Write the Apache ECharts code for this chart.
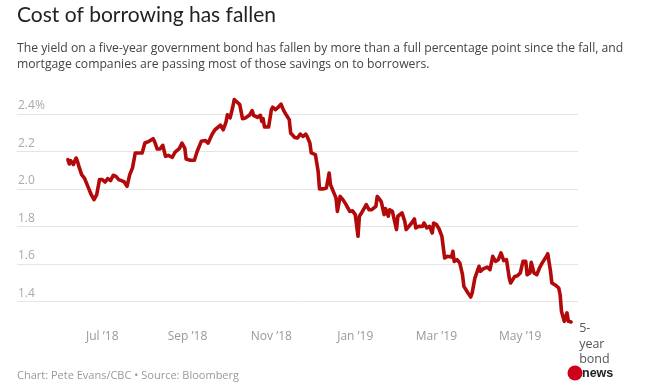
<!DOCTYPE html>
<html>
<head>
<meta charset="utf-8">
<script src="https://cdn.jsdelivr.net/npm/echarts@6/dist/echarts.min.js"></script>
<style>
html,body{margin:0;padding:0;background:#fff;}
#chart{width:645px;height:388px;}
</style>
</head>
<body>
<div id="chart"></div>
<script>
// ---- data ----
const dates = [
"2018-06-06","2018-06-07","2018-06-08","2018-06-10","2018-06-12","2018-06-13","2018-06-14","2018-06-16","2018-06-18","2018-06-20",
"2018-06-23","2018-06-25","2018-06-27","2018-06-29","2018-07-01","2018-07-03","2018-07-05","2018-07-07","2018-07-09","2018-07-11",
"2018-07-13","2018-07-15","2018-07-17","2018-07-19","2018-07-21","2018-07-23","2018-07-25","2018-07-27","2018-07-30","2018-08-01",
"2018-08-04","2018-08-07","2018-08-08","2018-08-10","2018-08-12","2018-08-14","2018-08-16","2018-08-18","2018-08-21","2018-08-23",
"2018-08-26","2018-08-28","2018-08-30","2018-08-31","2018-09-03","2018-09-06","2018-09-08","2018-09-09","2018-09-11","2018-09-14",
"2018-09-16","2018-09-19","2018-09-21","2018-09-25","2018-09-27","2018-09-29","2018-09-30","2018-10-02","2018-10-04","2018-10-05",
"2018-10-07","2018-10-09","2018-10-11","2018-10-13","2018-10-16","2018-10-18","2018-10-19","2018-10-22","2018-10-24","2018-10-25",
"2018-10-26","2018-10-27","2018-10-30","2018-11-01","2018-11-02","2018-11-04","2018-11-06","2018-11-08","2018-11-10","2018-11-12",
"2018-11-14","2018-11-15","2018-11-18","2018-11-20","2018-11-22","2018-11-24","2018-11-26","2018-11-27","2018-11-29","2018-11-30",
"2018-12-03","2018-12-05","2018-12-06","2018-12-09","2018-12-11","2018-12-13","2018-12-14","2018-12-16","2018-12-18","2018-12-19",
"2018-12-21","2018-12-23","2018-12-25","2018-12-26","2018-12-28","2018-12-30","2019-01-01","2019-01-03","2019-01-04","2019-01-06",
"2019-01-09","2019-01-11","2019-01-13","2019-01-16","2019-01-17","2019-01-19","2019-01-20","2019-01-22","2019-01-23","2019-01-25",
"2019-01-26","2019-01-28","2019-01-31","2019-02-01","2019-02-04","2019-02-06","2019-02-07","2019-02-09","2019-02-11","2019-02-13",
"2019-02-14","2019-02-16","2019-02-19","2019-02-20","2019-02-22","2019-02-24","2019-02-26","2019-02-27","2019-03-01","2019-03-03",
"2019-03-05","2019-03-07","2019-03-09","2019-03-12","2019-03-13","2019-03-14","2019-03-16","2019-03-18","2019-03-20","2019-03-21",
"2019-03-24","2019-03-26","2019-03-27","2019-03-29","2019-04-01","2019-04-02","2019-04-04","2019-04-07","2019-04-08","2019-04-09",
"2019-04-11","2019-04-13","2019-04-15","2019-04-17","2019-04-19","2019-04-21","2019-04-23","2019-04-24","2019-04-27","2019-04-29",
"2019-05-01","2019-05-03","2019-05-05","2019-05-06","2019-05-08","2019-05-09","2019-05-11","2019-05-13","2019-05-15","2019-05-17",
"2019-05-20","2019-05-21","2019-05-23","2019-05-24","2019-05-27","2019-05-29","2019-05-30","2019-05-31","2019-06-02","2019-06-04",
"2019-06-05","2019-06-07"
];
const yields = [
2.156,2.133,2.151,2.130,2.165,2.147,2.120,2.076,2.058,2.023,
1.969,1.943,1.970,2.050,2.050,2.037,2.055,2.044,2.073,2.067,
2.050,2.044,2.037,2.014,2.076,2.112,2.192,2.192,2.192,2.245,
2.254,2.268,2.254,2.213,2.213,2.233,2.174,2.179,2.169,2.197,
2.215,2.245,2.218,2.160,2.153,2.153,2.200,2.204,2.254,2.258,
2.245,2.293,2.316,2.340,2.316,2.357,2.396,2.379,2.440,2.477,
2.464,2.450,2.375,2.379,2.393,2.418,2.393,2.382,2.393,2.361,
2.375,2.331,2.331,2.423,2.436,2.423,2.436,2.453,2.418,2.393,
2.370,2.299,2.275,2.272,2.293,2.280,2.293,2.280,2.245,2.192,
2.183,2.094,2.000,2.000,2.005,2.085,2.023,1.987,1.952,1.880,
1.960,1.943,1.920,1.930,1.880,1.883,1.863,1.747,1.854,1.877,
1.916,1.889,1.889,1.907,1.960,1.943,1.930,1.863,1.895,1.854,
1.889,1.880,1.783,1.854,1.872,1.827,1.783,1.800,1.818,1.840,
1.792,1.800,1.800,1.818,1.792,1.800,1.765,1.818,1.810,1.786,
1.747,1.631,1.640,1.636,1.667,1.613,1.622,1.605,1.542,1.480,
1.444,1.423,1.444,1.524,1.587,1.560,1.573,1.583,1.587,1.569,
1.640,1.613,1.622,1.658,1.617,1.622,1.524,1.498,1.533,1.537,
1.551,1.613,1.613,1.542,1.551,1.608,1.551,1.542,1.578,1.605,
1.640,1.654,1.560,1.498,1.484,1.471,1.435,1.346,1.293,1.338,
1.293,1.290
];
const xTickDates = ["2018-07-01","2018-09-01","2018-11-01","2019-01-01","2019-03-01","2019-05-01"];
const xTickLabels = ["Jul \u201918","Sep \u201918","Nov \u201918","Jan \u201919","Mar \u201919","May \u201919"];
const xRange = ["2018-04-30","2019-06-12"];
const yMin = 1.4, yMax = 2.4, yStep = 0.2;
const seriesName = "5-\nyear\nbond";

function ts(s){ const p = s.split('-').map(Number); return Date.UTC(p[0], p[1]-1, p[2]); }

const labelMap = {};
xTickDates.forEach((d,i)=>{ labelMap[ts(d)] = xTickLabels[i]; });

const chart = echarts.init(document.getElementById('chart'), null, {renderer:'canvas'});
const FONT = 'Open Sans';
chart.setOption({
  animation:false,
  backgroundColor:'#fff',
  grid:{left:17, right:67, top:114, bottom:86.7, containLabel:false},
  xAxis:{
    type:'value',
    min:ts(xRange[0]), max:ts(xRange[1]),
    axisLine:{show:false}, axisTick:{show:false}, splitLine:{show:false},
    axisLabel:{
      customValues: xTickDates.map(ts),
      formatter:(v)=>labelMap[v] || '',
      color:'#999', fontFamily:FONT, fontSize:12, margin:29,
      hideOverlap:false, showMinLabel:true, showMaxLabel:true
    }
  },
  yAxis:{
    type:'value', min:yMin, max:yMax, interval:yStep,
    axisLine:{show:false}, axisTick:{show:false},
    splitLine:{lineStyle:{color:'#e5e5e5', width:1}},
    axisLabel:{
      inside:true, align:'left', verticalAlign:'bottom', margin:1,
      padding:[0,0,2,0],
      color:'#aaa', fontFamily:FONT, fontSize:12,
      formatter:(v)=> Math.abs(v-yMax)<1e-6 ? v.toFixed(1)+'%' : v.toFixed(1)
    }
  },
  series:[{
    type:'line',
    name:seriesName,
    data: dates.map((d,i)=>[ts(d), yields[i]]),
    showSymbol:false, clip:false,
    lineStyle:{color:'#b20a0a', width:3.6, join:'round', cap:'round'},
    endLabel:{
      show:true, formatter:seriesName, color:'#555', fontFamily:FONT, fontSize:12.5,
      lineHeight:15.5, align:'left', verticalAlign:'top', offset:[0,-1]
    },
    emphasis:{disabled:true}
  }],
  graphic:[
    {type:'text', left:17, top:5, style:{text:'Cost of borrowing has fallen', font:'21px "Lato"', fill:'#222'}},
    {type:'text', left:17, top:40, style:{text:'The yield on a five-year government bond has fallen by more than a full percentage point since the fall, and\nmortgage companies are passing most of those savings on to borrowers.', font:'12.2px "Open Sans"', fill:'#444', lineHeight:16.5}},
    {type:'text', left:17, top:370, style:{text:'Chart: Pete Evans/CBC \u2022 Source: Bloomberg', font:'11px "Open Sans"', fill:'#999'}},
    {type:'circle', shape:{cx:575, cy:373, r:7.5}, style:{fill:'#d0021b'}},
    {type:'text', x:582, y:367, style:{text:'news', font:'bold 12.5px "Liberation Sans"', fill:'#222'}}
  ]
});
</script>
</body>
</html>
